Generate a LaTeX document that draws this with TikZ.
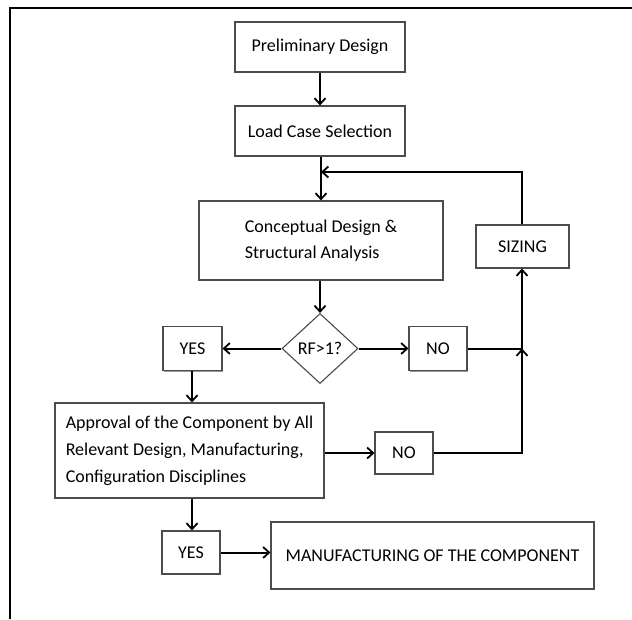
\documentclass[tikz,border=0pt]{standalone}
\usepackage{fontspec}
\setmainfont{Carlito}
\usetikzlibrary{shapes.geometric,arrows.meta,shadows}
\begin{document}
\begin{tikzpicture}[x=1pt,y=-1pt,
  box/.style={draw=black!70,line width=1.1pt,fill=white,rectangle,inner sep=0pt,
    font=\fontsize{18}{26}\selectfont,
    drop shadow={shadow xshift=1.4pt,shadow yshift=-1.4pt,fill=black!50,opacity=0.8}},
  dia/.style={draw=black!70,line width=1.1pt,fill=white,diamond,inner sep=0pt,
    font=\fontsize{18}{26}\selectfont},
  arr/.style={line width=2pt,-{Straight Barb[length=6pt,width=11pt,line width=1.8pt]}},
  ln/.style={line width=2pt}]
\useasboundingbox (0,0) rectangle (632,619);
% frame
\draw[line width=2pt] (9,7.7) -- (632,7.7);
\draw[line width=2pt] (10,6.7) -- (10,619);
% nodes
\node[box,minimum width=170,minimum height=50] (pd) at (320,47) {Preliminary Design};
\node[box,minimum width=170,minimum height=50] (lcs) at (320,131) {Load Case Selection};
\node[box,minimum width=244,minimum height=79,align=left] (conc) at (321,240.5) {Conceptual Design \&\\Structural Analysis};
\node[box,minimum width=93,minimum height=43] (sz) at (522.5,246.5) {SIZING};
\node[dia,minimum width=76,minimum height=70] (rf) at (320,348.5) {RF>1?};
\node[box,minimum width=59,minimum height=44] (yes1) at (192.5,348.5) {YES};
\node[box,minimum width=58,minimum height=44] (no1) at (438,348.5) {NO};
\node[box,minimum width=269,minimum height=95,align=left,font=\fontsize{18}{27}\selectfont] (ap) at (189.5,450.5) {Approval of the Component by All\\Relevant Design, Manufacturing,\\Configuration Disciplines};
\node[box,minimum width=58,minimum height=42] (no2) at (404,453) {NO};
\node[box,minimum width=58,minimum height=43] (yes2) at (191,552.5) {YES};
\node[box,minimum width=323,minimum height=67] (mfg) at (432.5,555.5) {MANUFACTURING OF THE COMPONENT};
% coordinates
\coordinate (j) at (321,172);
\coordinate (m) at (522,348.5);
% connectors
\draw[arr] (pd) -- (lcs);
\draw[arr] (lcs.south -| j) -- (conc.north -| j);
\draw[arr] (sz.north -| m) |- (j);
\draw[arr] (conc.south -| rf.north) -- (rf.north);
\draw[arr] (rf.west) -- (yes1.east);
\draw[arr] (rf.east) -- (no1.west);
\draw[ln] (no1.east) -- (m);
\draw[arr] (no2.east) -| (m);
\draw[arr] (m) -- (sz.south -| m);
\draw[arr] (ap.east |- no2.west) -- (no2.west);
\draw[arr] (yes1.south -| 192,0) -- (ap.north -| 192,0);
\draw[arr] (ap.south -| 192,0) -- (yes2.north -| 192,0);
\draw[arr] (yes2.east) -- (yes2.east -| mfg.west);
\end{tikzpicture}
\end{document}
